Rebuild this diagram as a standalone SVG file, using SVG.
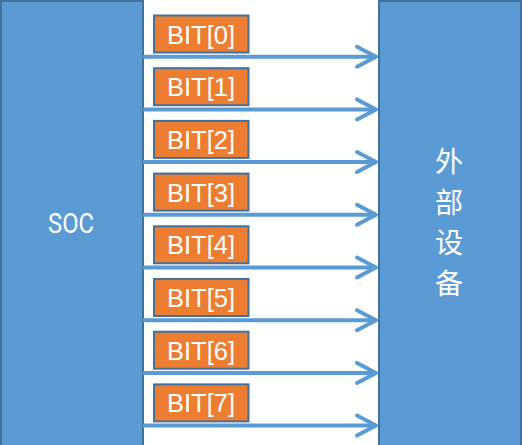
<svg xmlns="http://www.w3.org/2000/svg" width="522" height="445" viewBox="0 0 522 445">
<style>
.blk{fill:#5B9BD5;stroke:#41719C;stroke-width:2}
.bit rect{fill:#ED7D31;stroke:#41719C;stroke-width:2}
.bit text{font-family:"Liberation Sans",Arial,sans-serif;font-size:26px;fill:#FFFFFF;text-anchor:middle}
.ln{stroke:#5B9BD5;stroke-width:4;fill:none;marker-end:url(#ah)}
.cn{font-family:"Noto Sans CJK SC",sans-serif;font-size:28px;fill:#FFFFFF;text-anchor:middle;dominant-baseline:central}
</style>
<defs>
<marker id="ah" markerUnits="userSpaceOnUse" markerWidth="30" markerHeight="30" refX="0" refY="0" viewBox="-25 -15 30 30" orient="auto" overflow="visible">
<path d="M -19 -10 L 0 0 L -19 10" fill="none" stroke="#5B9BD5" stroke-width="4" stroke-linecap="round" stroke-linejoin="round"/>
</marker>
</defs>
<g id="soc">
<rect class="blk" x="1" y="1" width="142" height="460"/>
<text x="71" y="232.5" font-family="Roboto,'Liberation Sans',sans-serif" font-size="28.5" fill="#FFFFFF" text-anchor="middle" textLength="46" lengthAdjust="spacingAndGlyphs">SOC</text>
</g>
<g id="device">
<rect class="blk" x="379" y="1" width="142" height="460"/>
<text class="cn" x="449" y="160">外</text>
<text class="cn" x="449" y="201">部</text>
<text class="cn" x="449" y="241">设</text>
<text class="cn" x="449" y="282">备</text>
</g>
<g id="connectors">
<line class="ln" x1="143" y1="56.7" x2="376" y2="56.7"/>
<line class="ln" x1="143" y1="109.4" x2="376" y2="109.4"/>
<line class="ln" x1="143" y1="162.1" x2="376" y2="162.1"/>
<line class="ln" x1="143" y1="214.8" x2="376" y2="214.8"/>
<line class="ln" x1="143" y1="267.5" x2="376" y2="267.5"/>
<line class="ln" x1="143" y1="320.2" x2="376" y2="320.2"/>
<line class="ln" x1="143" y1="372.9" x2="376" y2="372.9"/>
<line class="ln" x1="143" y1="425.6" x2="376" y2="425.6"/>
</g>
<g id="bit0" class="bit"><rect x="154" y="15.5" width="94.5" height="37"/><text x="201" y="43.5" textLength="68" lengthAdjust="spacingAndGlyphs">BIT[0]</text></g>
<g id="bit1" class="bit"><rect x="154" y="68.2" width="94.5" height="37"/><text x="201" y="96.2" textLength="68" lengthAdjust="spacingAndGlyphs">BIT[1]</text></g>
<g id="bit2" class="bit"><rect x="154" y="120.9" width="94.5" height="37"/><text x="201" y="148.9" textLength="68" lengthAdjust="spacingAndGlyphs">BIT[2]</text></g>
<g id="bit3" class="bit"><rect x="154" y="173.6" width="94.5" height="37"/><text x="201" y="201.6" textLength="68" lengthAdjust="spacingAndGlyphs">BIT[3]</text></g>
<g id="bit4" class="bit"><rect x="154" y="226.3" width="94.5" height="37"/><text x="201" y="254.3" textLength="68" lengthAdjust="spacingAndGlyphs">BIT[4]</text></g>
<g id="bit5" class="bit"><rect x="154" y="279" width="94.5" height="37"/><text x="201" y="307" textLength="68" lengthAdjust="spacingAndGlyphs">BIT[5]</text></g>
<g id="bit6" class="bit"><rect x="154" y="331.7" width="94.5" height="37"/><text x="201" y="359.7" textLength="68" lengthAdjust="spacingAndGlyphs">BIT[6]</text></g>
<g id="bit7" class="bit"><rect x="154" y="384.4" width="94.5" height="37"/><text x="201" y="412.4" textLength="68" lengthAdjust="spacingAndGlyphs">BIT[7]</text></g>
</svg>
